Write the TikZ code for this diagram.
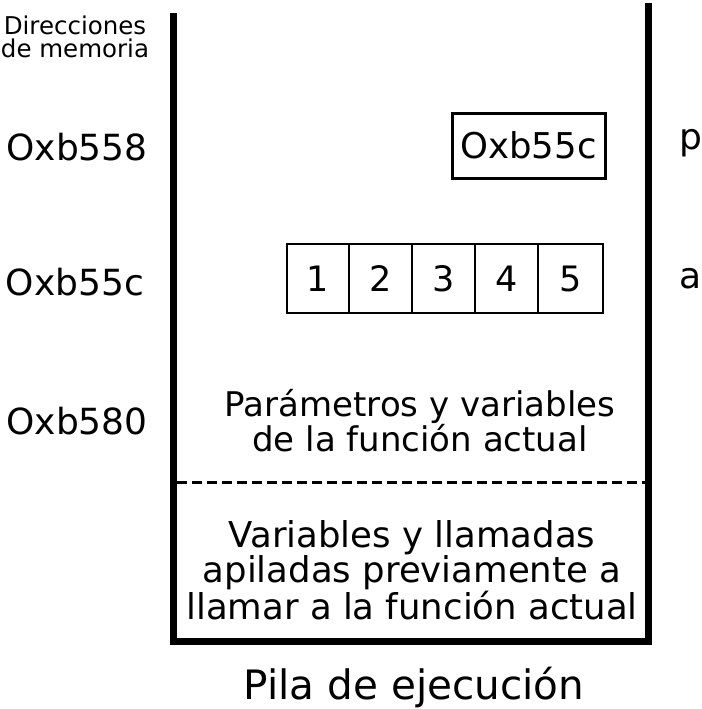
\documentclass[tikz,border=0pt]{standalone}
\usepackage{fontspec}
\setmainfont{DejaVu Sans}
\begin{document}
\begin{tikzpicture}[x=1pt,y=-1pt,
  wall/.style={line width=7pt,line join=miter},
  lbl/.style={inner sep=0pt,font=\fontsize{36}{38}\selectfont},
  cell/.style={draw,line width=2.5pt,minimum width=63pt,minimum height=69pt,inner sep=0pt,font=\fontsize{35}{36}\selectfont},
  body/.style={inner sep=0pt,align=center}]
\useasboundingbox (0,0) rectangle (701,709);
% stack walls
\coordinate (tl) at (173.5,13);
\coordinate (bl) at (173.5,641);
\coordinate (br) at (648.5,641);
\coordinate (tr) at (648.5,3);
\draw[wall] (tl) -- (bl) -- (br) -- (tr);
% dashed separator
\coordinate (dl) at (177,482);
\coordinate (dr) at (645,482);
\draw[line width=3pt,dash pattern=on 10pt off 5pt] (dl) -- (dr);
% address labels
\node[body,font=\fontsize{24.5}{23.5}\selectfont] (dir) at (75,37) {Direcciones\\de memoria};
\node[lbl] (a1) at (77,147) {Oxb558};
\node[lbl] (a2) at (75,282) {Oxb55c};
\node[lbl] (a3) at (77,421) {Oxb580};
% pointer box
\node[draw,line width=3pt,minimum width=153pt,minimum height=65pt,inner sep=0pt,font=\fontsize{35.5}{36}\selectfont] (ptr) at (528.5,145.5) {Oxb55c};
% array
\node[cell,minimum width=62pt] (c1) at (318,278.5) {1};
\node[cell] (c2) at (380.5,278.5) {2};
\node[cell] (c3) at (443.5,278.5) {3};
\node[cell] (c4) at (506.5,278.5) {4};
\node[cell,minimum width=65pt] (c5) at (570.5,278.5) {5};
% cut-off labels on the right
\node[lbl,anchor=west] (p) at (679,143) {p};
\node[lbl,anchor=west] (a) at (679,279) {a};
% body texts
\node[body,font=\fontsize{34}{34}\selectfont] (cur) at (420,421) {Parámetros y variables\\de la función actual};
\node[body,font=\fontsize{35.5}{35}\selectfont] (prev) at (412,570) {Variables y llamadas\\apiladas previamente a\\llamar a la función actual};
\node[inner sep=0pt,font=\fontsize{40.5}{42}\selectfont] (title) at (414,688) {Pila de ejecución};
\end{tikzpicture}
\end{document}
